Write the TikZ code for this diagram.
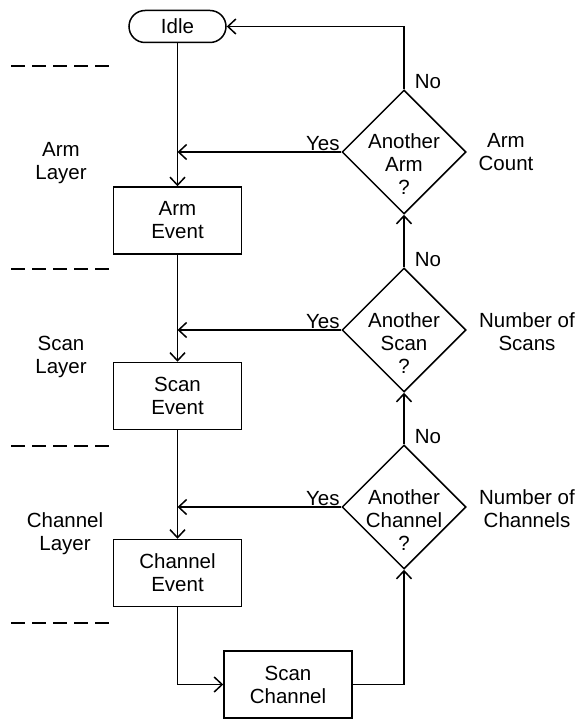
\documentclass[tikz,border=0pt]{standalone}
\usepackage{fontspec}
\setmainfont{Liberation Sans}
\usetikzlibrary{arrows.meta,shapes.geometric,shapes.misc}
\begin{document}
\begin{tikzpicture}[x=1pt,y=-1pt,line width=1.5pt,
  every node/.style={font=\fontsize{20.5}{23}\selectfont,align=center},
  box/.style={draw,rectangle,minimum width=128pt,minimum height=67pt,inner sep=0pt},
  stadium/.style={draw,rounded rectangle,minimum width=97pt,minimum height=32pt,inner sep=0pt},
  dia/.style={draw,diamond,minimum width=124pt,minimum height=124pt,inner sep=0pt},
  arr/.style={-{Straight Barb[length=8pt,width=15pt]}},
  dashline/.style={dash pattern=on 14pt off 7pt},
  lbl/.style={inner sep=1pt}]
\fill[white] (0,0) rectangle (576,719);
\useasboundingbox (0,0) rectangle (576,719);

% main column
\node[stadium] (idle) at (177.5,26.5) {Idle};
\node[box] (arm) at (177.5,220.5) {Arm\\Event};
\node[box] (scan) at (177.5,396) {Scan\\Event};
\node[box] (chan) at (177.5,573) {Channel\\Event};
\node[box] (scch) at (288,684.5) {Scan\\Channel};

% decisions
\node[dia] (armd) at (404,152) {};
\node (armdt) at (404,164) {Another\\Arm\\?};
\node[dia] (scand) at (404,330) {};
\node (scandt) at (404,343) {Another\\Scan\\?};
\node[dia] (chand) at (404,507) {};
\node (chandt) at (404,520) {Another\\Channel\\?};

% side labels
\node (armc) at (506,152) {Arm\\Count};
\node (nscan) at (527,332) {Number of\\Scans};
\node (nchan) at (527,509) {Number of\\Channels};

% layer labels
\node (laya) at (61,163.5) {Arm\\Layer};
\node (lays) at (61,356.5) {Scan\\Layer};
\node (layc) at (65,533.5) {Channel\\Layer};

% dashed separators
\draw[dashline] (11,66) -- (111,66);
\draw[dashline] (11,269) -- (111,269);
\draw[dashline] (11,446) -- (111,446);
\draw[dashline] (11,623) -- (111,623);

% connectors
\draw[arr] (idle.south) -- (arm.north);
\draw[arr] (armd.west) -- (armd.west -| idle.south);
\draw[arr] (armd.north) |- (idle.east);
\draw[arr] (arm.south) -- (scan.north);
\draw[arr] (scand.west) -- (scand.west -| arm.south);
\draw[arr] (scand.north) -- (armd.south);
\draw[arr] (scan.south) -- (chan.north);
\draw[arr] (chand.west) -- (chand.west -| scan.south);
\draw[arr] (chand.north) -- (scand.south);
\draw[arr] (chan.south) |- (scch.west);
\draw[arr] (scch.east) -| (chand.south);

% branch labels
\node[lbl,anchor=base west] (no1) at ([xshift=9pt,yshift=1pt]armd.north) {No};
\node[lbl,anchor=south east] (yes1) at (armd.west) {Yes};
\node[lbl,anchor=base west] (no2) at ([xshift=9pt,yshift=1pt]scand.north) {No};
\node[lbl,anchor=south east] (yes2) at (scand.west) {Yes};
\node[lbl,anchor=base west] (no3) at ([xshift=9pt,yshift=1pt]chand.north) {No};
\node[lbl,anchor=south east] (yes3) at (chand.west) {Yes};
\end{tikzpicture}
\end{document}
